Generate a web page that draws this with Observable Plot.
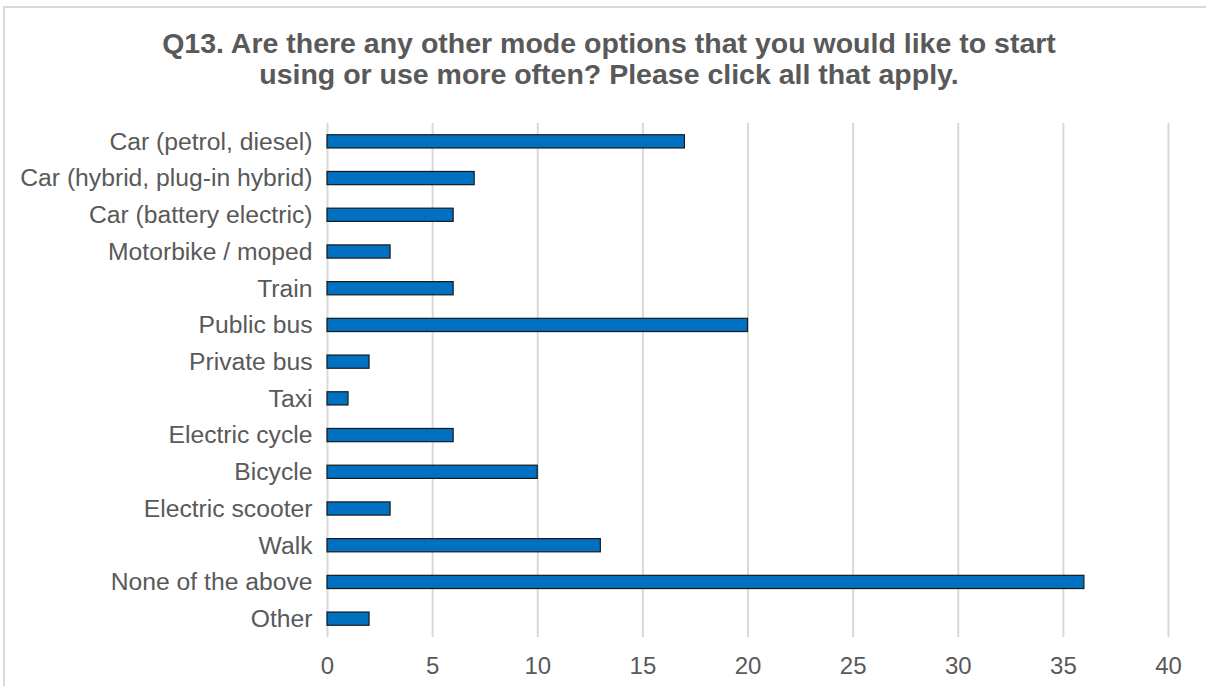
<!DOCTYPE html>
<html><head><meta charset="utf-8">
<script src="https://cdn.jsdelivr.net/npm/d3@7"></script>
<script src="https://cdn.jsdelivr.net/npm/@observablehq/plot@0.6"></script>
<style>
body{margin:0;background:#fff;font-family:"Liberation Sans",Arial,sans-serif;overflow:hidden;}
#frame{position:absolute;left:3px;top:6px;width:1210px;height:700px;border:2px solid #d9d9d9;box-sizing:border-box;}
#title{position:absolute;left:0;top:28px;width:1218px;text-align:center;font-weight:bold;font-size:28.5px;line-height:31px;color:#595959;}
#chart{position:absolute;left:0;top:0;}
</style></head>
<body>
<div id="frame"></div>
<div id="title">Q13. Are there any other mode options that you would like to start<br>using or use more often? Please click all that apply.</div>
<div id="chart"></div>
<script>
const categories = ["Car (petrol, diesel)","Car (hybrid, plug-in hybrid)","Car (battery electric)","Motorbike / moped","Train","Public bus","Private bus","Taxi","Electric cycle","Bicycle","Electric scooter","Walk","None of the above","Other"];
const values = [17,7,6,3,6,20,2,1,6,10,3,13,36,2];
const xTicks = [0,5,10,15,20,25,30,35,40];
const data = categories.map((c,i)=>({mode:c,count:values[i]}));
const chart = Plot.plot({
  width:1206, height:686,
  marginLeft:327, marginRight:38, marginTop:123, marginBottom:49,
  style:{fontFamily:"Liberation Sans, Arial, sans-serif",background:"transparent"},
  x:{domain:[0,40],ticks:xTicks},
  y:{domain:categories,paddingInner:0.64,paddingOuter:0.32,round:false},
  marks:[
    Plot.gridX(xTicks,{stroke:"#d9d9d9",strokeOpacity:1,strokeWidth:2}),
    Plot.barX(data,{x:"count",y:"mode",fill:"#0070c0",stroke:"#1a1a1a",strokeWidth:1.2}),
    Plot.axisX(xTicks,{tickSize:0,tickPadding:19,fontSize:24,fill:"#595959",label:null}),
    Plot.axisY({tickSize:0,tickPadding:15,fontSize:24.7,fill:"#595959",label:null})
  ]
});
document.getElementById("chart").appendChild(chart);
</script>
</body></html>
